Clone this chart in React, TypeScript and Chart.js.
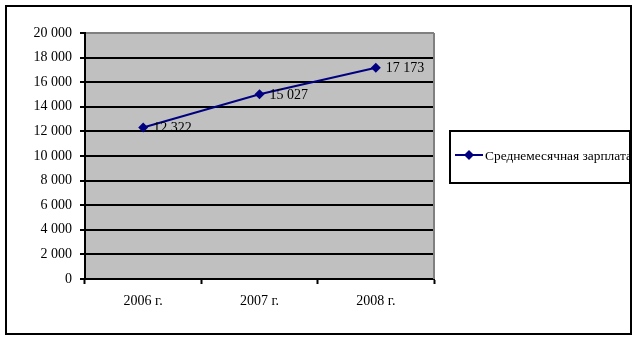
import React, { useEffect, useRef } from 'react';
import { Chart, registerables } from 'chart.js';

Chart.register(...registerables);

const categories = ['2006 г.', '2007 г.', '2008 г.'];
const salaryValues = [12322, 15027, 17173];
const seriesName = 'Среднемесячная зарплата';
const yMin = 0;
const yMax = 20000;
const yStep = 2000;

const FONT = '"Liberation Serif", "Times New Roman", serif';
const FONT_SIZE = 14;
const LINE_COLOR = '#000080';

const fmt = (n: number) => String(Math.round(n)).replace(/\B(?=(\d{3})+(?!\d))/g, ' ');

const decorPlugin = {
  id: 'decor',
  beforeDraw(chart: any) {
    const { ctx, chartArea: a } = chart;
    ctx.save();
    ctx.fillStyle = '#ffffff';
    ctx.fillRect(0, 0, chart.width, chart.height);
    ctx.fillStyle = '#C0C0C0';
    ctx.fillRect(a.left, a.top, a.right - a.left, a.bottom - a.top);
    ctx.restore();
  },
  beforeDatasetsDraw(chart: any) {
    const { ctx, chartArea: a } = chart;
    ctx.save();
    ctx.strokeStyle = '#808080';
    ctx.lineWidth = 2;
    ctx.beginPath();
    ctx.moveTo(a.right, a.top);
    ctx.lineTo(a.right, a.bottom);
    ctx.stroke();
    ctx.restore();
  },
  afterDraw(chart: any) {
    const { ctx } = chart;
    ctx.save();
    // data labels
    const meta = chart.getDatasetMeta(0);
    ctx.fillStyle = '#000000';
    ctx.font = `${FONT_SIZE}px ${FONT}`;
    ctx.textBaseline = 'middle';
    ctx.textAlign = 'left';
    meta.data.forEach((pt: any, i: number) => {
      ctx.fillText(fmt(salaryValues[i]), pt.x + 10, pt.y + 1);
    });
    // outer border
    ctx.strokeStyle = '#000000';
    ctx.lineWidth = 2;
    ctx.strokeRect(6, 6, 625, 328);
    // legend box
    const lx = 450, ly = 131, lw = 180, lh = 52;
    ctx.strokeRect(lx, ly, lw, lh);
    const cy = ly + lh / 2 - 2;
    ctx.strokeStyle = LINE_COLOR;
    ctx.lineWidth = 2;
    ctx.beginPath();
    ctx.moveTo(lx + 5, cy);
    ctx.lineTo(lx + 33, cy);
    ctx.stroke();
    ctx.fillStyle = LINE_COLOR;
    ctx.beginPath();
    const dx = lx + 19, r = 5;
    ctx.moveTo(dx, cy - r);
    ctx.lineTo(dx + r, cy);
    ctx.lineTo(dx, cy + r);
    ctx.lineTo(dx - r, cy);
    ctx.closePath();
    ctx.fill();
    ctx.beginPath();
    ctx.rect(lx + 1, ly + 1, lw - 2, lh - 2);
    ctx.clip();
    ctx.fillStyle = '#000000';
    ctx.font = `13.4px ${FONT}`;
    ctx.textBaseline = 'middle';
    ctx.fillText(seriesName, lx + 35, cy + 1);
    ctx.restore();
  },
};

export default function App() {
  const ref = useRef<HTMLCanvasElement | null>(null);
  useEffect(() => {
    document.body.style.margin = '0';
    if (!ref.current) return;
    const chart = new Chart(ref.current, {
      type: 'line',
      data: {
        labels: categories,
        datasets: [
          {
            label: seriesName,
            data: salaryValues,
            borderColor: LINE_COLOR,
            backgroundColor: LINE_COLOR,
            borderWidth: 2,
            pointStyle: 'rectRot',
            pointRadius: 5,
            pointBackgroundColor: LINE_COLOR,
            pointBorderColor: LINE_COLOR,
            pointBorderWidth: 0,
            tension: 0,
          },
        ],
      },
      options: {
        responsive: false,
        animation: false,
        devicePixelRatio: 1,
        layout: { padding: { top: 33, right: 202, bottom: 0, left: 0 } },
        plugins: { legend: { display: false }, tooltip: { enabled: false } },
        scales: {
          x: {
            offset: true,
            grid: {
              offset: true,
              drawOnChartArea: false,
              drawTicks: true,
              tickLength: 5,
              tickColor: '#000000',
              tickWidth: 2,
            },
            border: { display: true, color: '#000000', width: 2 },
            ticks: {
              color: '#000000',
              font: { family: FONT, size: FONT_SIZE },
              padding: 9,
              maxRotation: 0,
            },
            afterFit(scale: any) {
              scale.height = 60;
            },
          },
          y: {
            min: yMin,
            max: yMax,
            ticks: {
              stepSize: yStep,
              color: '#000000',
              font: { family: FONT, size: FONT_SIZE },
              padding: 8,
              callback: (v: any) => fmt(Number(v)),
            },
            grid: {
              color: (c: any) => (c.tick && c.tick.value === yMax ? '#808080' : '#000000'),
              lineWidth: 2,
              tickColor: '#000000',
              tickLength: 5,
              tickWidth: 2,
            },
            border: { display: true, color: '#000000', width: 2 },
            afterFit(scale: any) {
              scale.width = 85;
            },
          },
        },
      },
      plugins: [decorPlugin],
    });
    return () => chart.destroy();
  }, []);
  return <canvas ref={ref} width={636} height={339} style={{ display: 'block' }} />;
}
